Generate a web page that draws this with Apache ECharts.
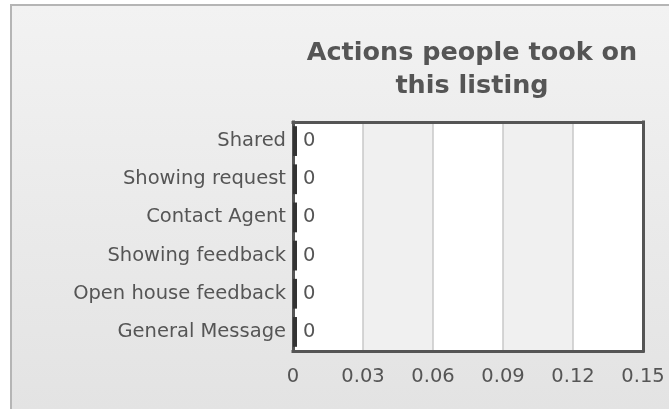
<!DOCTYPE html>
<html>
<head>
<meta charset="utf-8">
<script src="https://cdn.jsdelivr.net/npm/echarts@6/dist/echarts.min.js"></script>
<style>
  html, body { margin: 0; padding: 0; background: #ffffff; }
  #bg { position: absolute; left: 10px; top: 4px; width: 659px; height: 405px;
        border-left: 2px solid #b5b5b5; border-top: 2px solid #b5b5b5;
        background: linear-gradient(to bottom, #f2f2f2, #e3e3e3); }
  #chart { position: absolute; left: 0; top: 0; width: 669px; height: 409px; }
</style>
</head>
<body>
<div id="bg"></div>
<div id="chart"></div>
<script>
const titleText = 'Actions people took on\nthis listing';
const categories = ['Shared', 'Showing request', 'Contact Agent', 'Showing feedback', 'Open house feedback', 'General Message'];
const values = [0, 0, 0, 0, 0, 0];
const axisMin = 0;
const axisMax = 0.15;
const axisStep = 0.03;

const FONT = 'DejaVu Sans';
const TXT = '#555555';
const frameLine = { show: true, onZero: false, lineStyle: { color: '#555555', width: 3, cap: 'square' } };

const chart = echarts.init(document.getElementById('chart'), null, { renderer: 'canvas' });
chart.setOption({
  backgroundColor: 'transparent',
  animation: false,
  title: {
    text: titleText,
    left: 467,
    top: 32,
    textAlign: 'center',
    textStyle: { fontFamily: FONT, fontWeight: 'bold', fontSize: 25.5, color: TXT, lineHeight: 33 }
  },
  grid: { left: 293, right: 26, top: 122, bottom: 58, show: false },
  xAxis: [{
    type: 'value', min: axisMin, max: axisMax, interval: axisStep, position: 'bottom',
    axisLine: frameLine, axisTick: { show: false },
    splitLine: { show: true, lineStyle: { color: '#c8c8c8', width: 1.5 } },
    splitArea: { show: true, areaStyle: { color: ['#ffffff', '#f0f0f0'] } },
    axisLabel: {
      margin: 16, color: TXT, fontFamily: FONT, fontSize: 19.5,
      formatter: v => String(Math.round(v * 100) / 100)
    }
  }, {
    type: 'value', min: axisMin, max: axisMax, interval: axisStep, position: 'top',
    axisLine: frameLine, axisTick: { show: false }, axisLabel: { show: false },
    splitLine: { show: false }, splitArea: { show: false }
  }],
  yAxis: [{
    type: 'category', data: categories, inverse: true, position: 'left',
    axisLine: frameLine, axisTick: { show: false },
    axisLabel: { margin: 7, color: TXT, fontFamily: FONT, fontSize: 19.5 }
  }, {
    type: 'category', data: categories, inverse: true, position: 'right',
    axisLine: frameLine, axisTick: { show: false }, axisLabel: { show: false }
  }],
  series: [{
    type: 'bar', data: values, barCategoryGap: '22%', barMinHeight: 4,
    itemStyle: { color: '#333333' }, z: 5,
    label: { show: true, position: 'right', distance: 6, color: TXT, fontFamily: FONT, fontSize: 19.5 }
  }]
});
</script>
</body>
</html>
